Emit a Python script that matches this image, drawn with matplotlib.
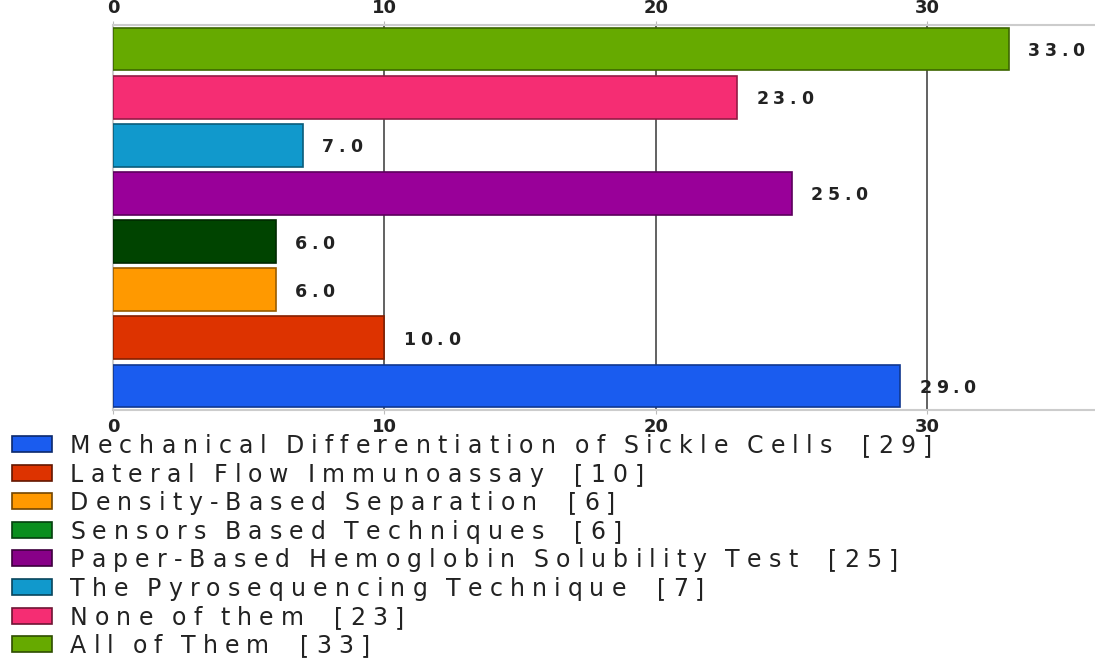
import numpy as np
import matplotlib.pyplot as plt
from matplotlib.patches import Rectangle
from matplotlib.textpath import TextToPath
from matplotlib.font_manager import FontProperties
from matplotlib.colors import to_rgb

W, H, DPI = 1095, 660, 100

categories = [
    "Mechanical Differentiation of Sickle Cells",
    "Lateral Flow Immunoassay",
    "Density-Based Separation",
    "Sensors Based Techniques",
    "Paper-Based Hemoglobin Solubility Test",
    "The Pyrosequencing Technique",
    "None of them",
    "All of Them",
]
counts = [29, 10, 6, 6, 25, 7, 23, 33]
bar_colors = ["#1a5cef", "#dd3300", "#ff9900", "#004400",
              "#990099", "#1199cc", "#f52d73", "#66aa00"]
legend_colors = ["#1a5cef", "#dd3300", "#ff9900", "#0a8f1e",
                 "#880088", "#1199cc", "#f52d73", "#66aa00"]
xticks = [0, 10, 20, 30]

ttp = TextToPath()


def darker(c, f=0.6):
    r, g, b = to_rgb(c)
    return (r * f, g * f, b * f)


def spaced_text(fig, x, y, s, size, track, weight="normal", color="#222222"):
    # draws s one glyph at a time so extra letter spacing can be added
    prop = FontProperties(family="DejaVu Sans", size=size, weight=weight)
    for ch in s:
        if ch != " ":
            fig.text(x / W, 1 - y / H, ch, fontproperties=prop, color=color,
                     ha="left", va="baseline")
            w, _, _ = ttp.get_text_width_height_descent(ch, prop, ismath=False)
            w = w * DPI / 72 + track
        else:
            w = size * 0.318 * DPI / 72 + track * 0.6
        x += w
    return x


fig = plt.figure(figsize=(W / DPI, H / DPI), dpi=DPI)
ax = fig.add_axes([113 / W, 1 - 410 / H, 1 - 113 / W, 385 / H])

y = np.arange(len(counts))
ax.barh(y, counts, height=0.89, color=bar_colors,
        edgecolor=[darker(c) for c in bar_colors], linewidth=1.2, zorder=3)
ax.set_ylim(-0.5, len(counts) - 0.5)
ax.set_xlim(0, 36.17)

for xv in xticks[1:]:
    ax.axvline(xv, color="#555555", lw=1.3, zorder=1)

ax.set_yticks([])
ax.set_xticks(xticks)
ax.tick_params(axis="x", top=True, labeltop=True, length=3, color="#bbbbbb",
               labelsize=13, pad=3)
for lab in ax.get_xticklabels():
    lab.set_fontweight("bold")
    lab.set_color("#222222")
for side in ["top", "bottom", "left"]:
    ax.spines[side].set_color("#cccccc")
    ax.spines[side].set_linewidth(1.5)
ax.spines["right"].set_visible(False)

# value labels to the right of each bar
for yi, v in zip(y, counts):
    px = 113 + v * (1095 - 113) / 36.17 + 19
    py = 410 - (yi + 0.5) * 385 / len(counts) + 7
    spaced_text(fig, px, py, f"{v:.1f}", 12.5, 4.5, weight="bold")

# legend rows below the chart
for i, (name, v, c) in enumerate(zip(categories, counts, legend_colors)):
    cy = 444 + i * 28.6
    fig.patches.append(Rectangle((12 / W, 1 - (cy + 8) / H), 40 / W, 16 / H,
                                 transform=fig.transFigure, facecolor=c,
                                 edgecolor=darker(c, 0.45), lw=1.2))
    spaced_text(fig, 70, cy + 9, f"{name}  [{v}]", 17, 7.1)

fig.savefig("out.png", dpi=DPI)
